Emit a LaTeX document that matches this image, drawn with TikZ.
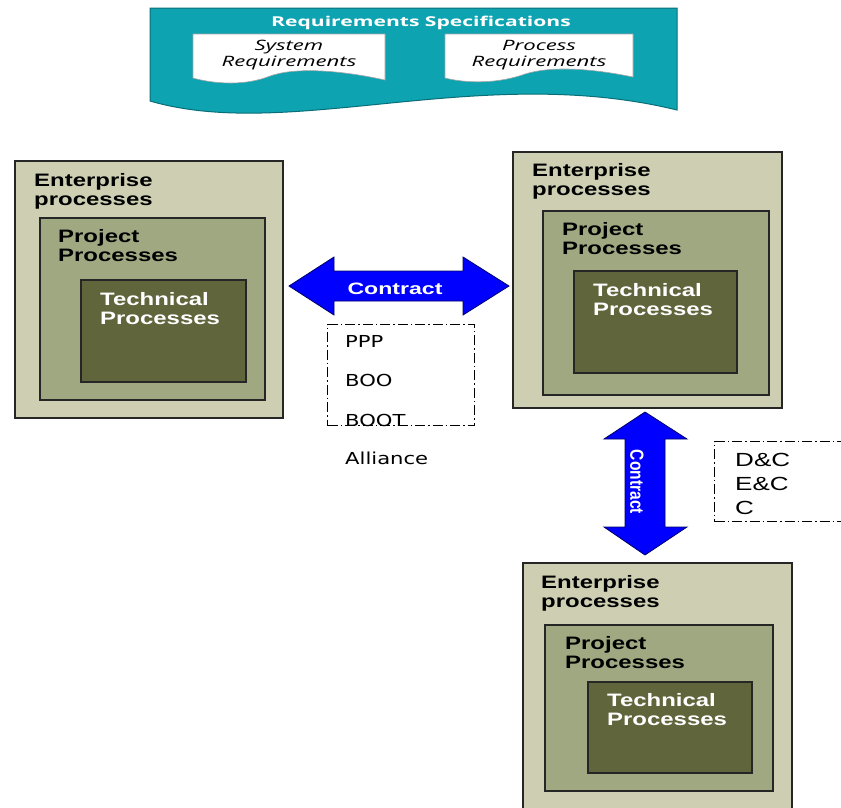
\documentclass[tikz,border=0pt]{standalone}
\usepackage{fontspec}
\setmainfont{Liberation Sans}
\newfontfamily\boxfont[FakeStretch=1.33]{Liberation Sans}
\newfontfamily\arrowfont[FakeStretch=1.4]{Liberation Sans}
\newfontfamily\varrowfont[FakeStretch=0.82]{Liberation Sans}
\newfontfamily\listfont[FakeStretch=1.28]{DejaVu Sans}
\newfontfamily\codefont[FakeStretch=1.37]{Liberation Sans}
\newfontfamily\specfont[FakeStretch=1.55]{Open Sans}
\definecolor{entfill}{RGB}{206,207,178}
\definecolor{projfill}{RGB}{160,168,130}
\definecolor{techfill}{RGB}{96,101,60}
\definecolor{specteal}{RGB}{14,163,177}
\definecolor{specedge}{RGB}{10,110,120}
\definecolor{arrowblue}{RGB}{0,0,255}
\begin{document}
\begin{tikzpicture}[x=1pt,y=-1pt,
  layerbox/.style={draw=black!85, line width=1.2pt, anchor=north west, inner sep=0pt, outer sep=0pt},
  entbox/.style={layerbox, fill=entfill},
  projbox/.style={layerbox, fill=projfill},
  techbox/.style={layerbox, fill=techfill},
  layerlabel/.style={anchor=north west, inner sep=0pt, align=left,
    font=\boxfont\bfseries\fontsize{18}{19.5}\selectfont},
  techlabel/.style={layerlabel, text=white},
  blockarrow/.style={fill=arrowblue, draw=blue!40!black, line width=0.8pt, line join=miter},
  arrowtext/.style={text=white, inner sep=0pt},
  dashdot box/.style={draw=black, line width=1.2pt, dash pattern=on 10pt off 3pt on 1.5pt off 3pt},
  listitem/.style={anchor=base west, inner sep=0pt, font=\listfont\fontsize{16.5}{20}\selectfont},
  codeitem/.style={anchor=base west, inner sep=0pt, font=\codefont\fontsize{19}{22}\selectfont},
  docsheet/.style={fill=white, draw=gray!70, line width=0.6pt},
  doctext/.style={inner sep=0pt, align=center, font=\specfont\itshape\fontsize{14.3}{16}\selectfont}
]
\useasboundingbox (0,0) rectangle (841,807);

% ---- Requirements banner ----
\draw[fill=specteal, draw=specedge, line width=1pt]
  (150,8) -- (677,8) -- (677,110)
  .. controls (480,62) and (290,142) .. (150,101) -- cycle;
\node[text=white, inner sep=0pt, anchor=base,
      font=\specfont\bfseries\fontsize{13.6}{15}\selectfont] (spectitle) at (421,26)
  {Requirements Specifications};

\draw[docsheet] (193,34) -- (385,34) -- (385,80)
  .. controls (340,70) and (295,67) .. (270,76)
  .. controls (245,86) and (215,84) .. (193,78) -- cycle;
\node[doctext, anchor=base] (sysreq) at (289,66) {System\\Requirements};

\draw[docsheet] (445,34) -- (633,34) -- (633,77)
  .. controls (590,68) and (550,66) .. (525,74)
  .. controls (500,83) and (470,84) .. (445,78) -- cycle;
\node[doctext, anchor=base] (procreq) at (539,66) {Process\\Requirements};

% ---- left organisation ----
\node[entbox, minimum width=268pt, minimum height=257pt] (entL) at (15,161) {};
\node[projbox, minimum width=225pt, minimum height=182pt] (projL) at (40,218) {};
\node[techbox, minimum width=165pt, minimum height=102pt] (techL) at (81,280) {};
\node[layerlabel] (entLlab) at ([shift={(19,12)}]entL.north west) {Enterprise\\processes};
\node[layerlabel] (projLlab) at ([shift={(18,11)}]projL.north west) {Project\\Processes};
\node[techlabel] (techLlab) at ([shift={(19,12)}]techL.north west) {Technical\\Processes};

% ---- right organisation ----
\node[entbox, minimum width=269pt, minimum height=256pt] (entR) at (513,152) {};
\node[projbox, minimum width=226pt, minimum height=184pt] (projR) at (543,211) {};
\node[techbox, minimum width=163pt, minimum height=102pt] (techR) at (574,271) {};
\node[layerlabel] (entRlab) at ([shift={(19,11)}]entR.north west) {Enterprise\\processes};
\node[layerlabel] (projRlab) at ([shift={(19,11)}]projR.north west) {Project\\Processes};
\node[techlabel] (techRlab) at ([shift={(19,12)}]techR.north west) {Technical\\Processes};

% ---- lower organisation ----
\node[entbox, minimum width=269pt, minimum height=260pt] (entB) at (523,563) {};
\node[projbox, minimum width=228pt, minimum height=166pt] (projB) at (545,625) {};
\node[techbox, minimum width=164pt, minimum height=91pt] (techB) at (588,682) {};
\node[layerlabel] (entBlab) at ([shift={(18,12)}]entB.north west) {Enterprise\\processes};
\node[layerlabel] (projBlab) at ([shift={(20,11)}]projB.north west) {Project\\Processes};
\node[techlabel] (techBlab) at ([shift={(19,11)}]techB.north west) {Technical\\Processes};

% ---- contract between left and right ----
\draw[blockarrow] (289,286) -- (334,257) -- (334,271) -- (463,271) -- (463,257)
  -- (509,286) -- (463,315) -- (463,301) -- (334,301) -- (334,315) -- cycle;
\node[arrowtext, font=\arrowfont\bfseries\fontsize{16.5}{18}\selectfont] (contractH) at (395,289) {Contract};

\node[dashdot box, anchor=north west, inner sep=0pt, minimum width=147pt, minimum height=101pt] (modelbox) at (327,324) {};
\node[listitem] (ppp) at (345,347) {PPP};
\node[listitem] (boo) at (345,386) {BOO};
\node[listitem] (boot) at (345,426) {BOOT};
\node[listitem] (alliance) at (345,464) {Alliance};

% ---- contract between right and lower ----
\draw[blockarrow] (645,412) -- (687,439) -- (665,439) -- (665,527) -- (687,527)
  -- (645,555) -- (604,527) -- (625,527) -- (625,439) -- (604,439) -- cycle;
\node[arrowtext, rotate=-90, font=\varrowfont\bfseries\fontsize{19}{20}\selectfont] (contractV) at (637,482) {Contract};

\node[dashdot box, anchor=north west, inner sep=0pt, minimum width=140pt, minimum height=80pt] (deliverybox) at (714,441) {};
\node[codeitem] (dc) at (735,466) {D\&C};
\node[codeitem] (ec) at (735,490) {E\&C};
\node[codeitem] (cc) at (735,514) {C};
\end{tikzpicture}
\end{document}
